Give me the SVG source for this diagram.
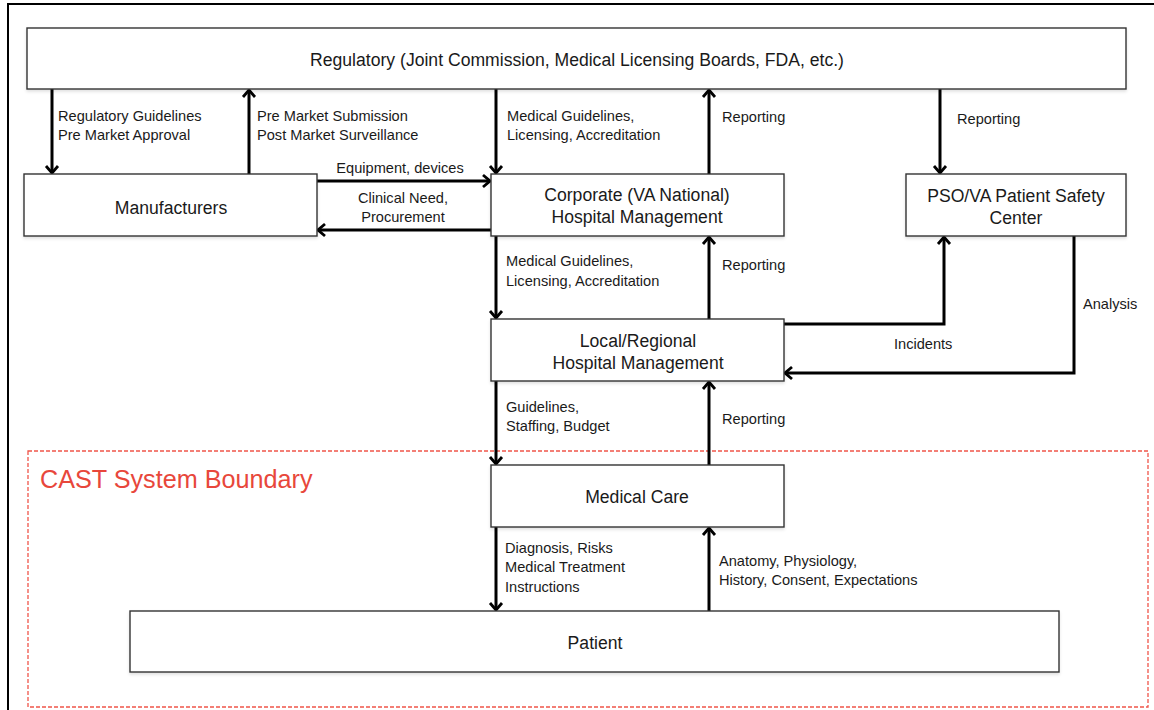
<svg xmlns="http://www.w3.org/2000/svg" width="1154" height="710" viewBox="0 0 1154 710">
  <style>
    .box { fill: #ffffff; stroke: #333333; stroke-width: 1.4; filter: url(#shadow); }
    .title { font-family: "Liberation Sans", Arial, sans-serif; font-size: 17.6px; fill: #1a1a1a; text-anchor: middle; }
    .lbl { font-family: "Liberation Sans", Arial, sans-serif; font-size: 14.6px; fill: #1a1a1a; }
    .mid { text-anchor: middle; }
    .wire { fill: none; stroke: #000000; stroke-width: 3; marker-end: url(#head); }
    .boundary { fill: none; stroke: #f0554a; stroke-width: 1.3; stroke-dasharray: 4 2; }
    .btitle { font-family: "Liberation Sans", Arial, sans-serif; font-size: 25.2px; fill: #e8473b; }
  </style>
  <defs>
    <filter id="shadow" x="-5%" y="-20%" width="110%" height="150%">
      <feDropShadow dx="0" dy="2" stdDeviation="1.5" flood-color="#000000" flood-opacity="0.12"/>
    </filter>
    <marker id="head" markerUnits="userSpaceOnUse" viewBox="-10 -8 12 16" refX="0" refY="0" markerWidth="12" markerHeight="16" orient="auto">
      <path d="M-7,-6 L0,0 L-7,6" fill="none" stroke="#000000" stroke-width="2.8"/>
    </marker>
  </defs>

  <!-- page frame -->
  <path d="M8,710 L8,4 L1154,4" fill="none" stroke="#000000" stroke-width="2"/>

  <!-- system boundary -->
  <g id="cast-boundary">
    <rect class="boundary" x="28" y="451" width="1120" height="256"/>
    <text class="btitle" x="40" y="488">CAST System Boundary</text>
  </g>

  <!-- connectors -->
  <g id="connectors">
    <path class="wire" d="M52,89 L52,173"/>
    <path class="wire" d="M249,174 L249,90"/>
    <path class="wire" d="M496,89 L496,173"/>
    <path class="wire" d="M709,174 L709,90"/>
    <path class="wire" d="M940,89 L940,173"/>
    <path class="wire" d="M317,181 L490,181"/>
    <path class="wire" d="M491,230 L318,230"/>
    <path class="wire" d="M496,236 L496,318"/>
    <path class="wire" d="M709,319 L709,237"/>
    <path class="wire" d="M784,324 L944,324 L944,237"/>
    <path class="wire" d="M1074,236 L1074,373 L785,373"/>
    <path class="wire" d="M496,381 L496,464"/>
    <path class="wire" d="M709,465 L709,382"/>
    <path class="wire" d="M496,527 L496,610"/>
    <path class="wire" d="M709,611 L709,528"/>
  </g>

  <!-- connector labels -->
  <g id="connector-labels" class="lbl">
    <text x="58" y="121">Regulatory Guidelines</text>
    <text x="58" y="140">Pre Market Approval</text>
    <text x="257" y="121">Pre Market Submission</text>
    <text x="257" y="140">Post Market Surveillance</text>
    <text x="507" y="121">Medical Guidelines,</text>
    <text x="507" y="140">Licensing, Accreditation</text>
    <text x="722" y="122">Reporting</text>
    <text x="957" y="124">Reporting</text>
    <text class="mid" x="400" y="173">Equipment, devices</text>
    <text class="mid" x="403" y="203">Clinical Need,</text>
    <text class="mid" x="403" y="222">Procurement</text>
    <text x="506" y="266">Medical Guidelines,</text>
    <text x="506" y="286">Licensing, Accreditation</text>
    <text x="722" y="270">Reporting</text>
    <text x="894" y="349">Incidents</text>
    <text x="1083" y="309">Analysis</text>
    <text x="506" y="412">Guidelines,</text>
    <text x="506" y="431">Staffing, Budget</text>
    <text x="722" y="424">Reporting</text>
    <text x="505" y="553">Diagnosis, Risks</text>
    <text x="505" y="572">Medical Treatment</text>
    <text x="505" y="592">Instructions</text>
    <text x="719" y="566">Anatomy, Physiology,</text>
    <text x="719" y="585">History, Consent, Expectations</text>
  </g>

  <!-- nodes -->
  <g id="regulatory">
    <rect class="box" x="27" y="28" width="1099" height="61"/>
    <text class="title" x="577" y="66">Regulatory (Joint Commission, Medical Licensing Boards, FDA, etc.)</text>
  </g>
  <g id="manufacturers">
    <rect class="box" x="24" y="174" width="293" height="62"/>
    <text class="title" x="171" y="214">Manufacturers</text>
  </g>
  <g id="corporate">
    <rect class="box" x="491" y="174" width="293" height="62"/>
    <text class="title" x="637" y="201">Corporate (VA National)</text>
    <text class="title" x="637" y="223">Hospital Management</text>
  </g>
  <g id="pso">
    <rect class="box" x="906" y="174" width="220" height="62"/>
    <text class="title" x="1016" y="202">PSO/VA Patient Safety</text>
    <text class="title" x="1016" y="224">Center</text>
  </g>
  <g id="local">
    <rect class="box" x="491" y="319" width="293" height="62"/>
    <text class="title" x="638" y="347">Local/Regional</text>
    <text class="title" x="638" y="369">Hospital Management</text>
  </g>
  <g id="medical-care">
    <rect class="box" x="491" y="465" width="293" height="62"/>
    <text class="title" x="637" y="503">Medical Care</text>
  </g>
  <g id="patient">
    <rect class="box" x="130" y="611" width="929" height="61"/>
    <text class="title" x="595" y="649">Patient</text>
  </g>
</svg>
